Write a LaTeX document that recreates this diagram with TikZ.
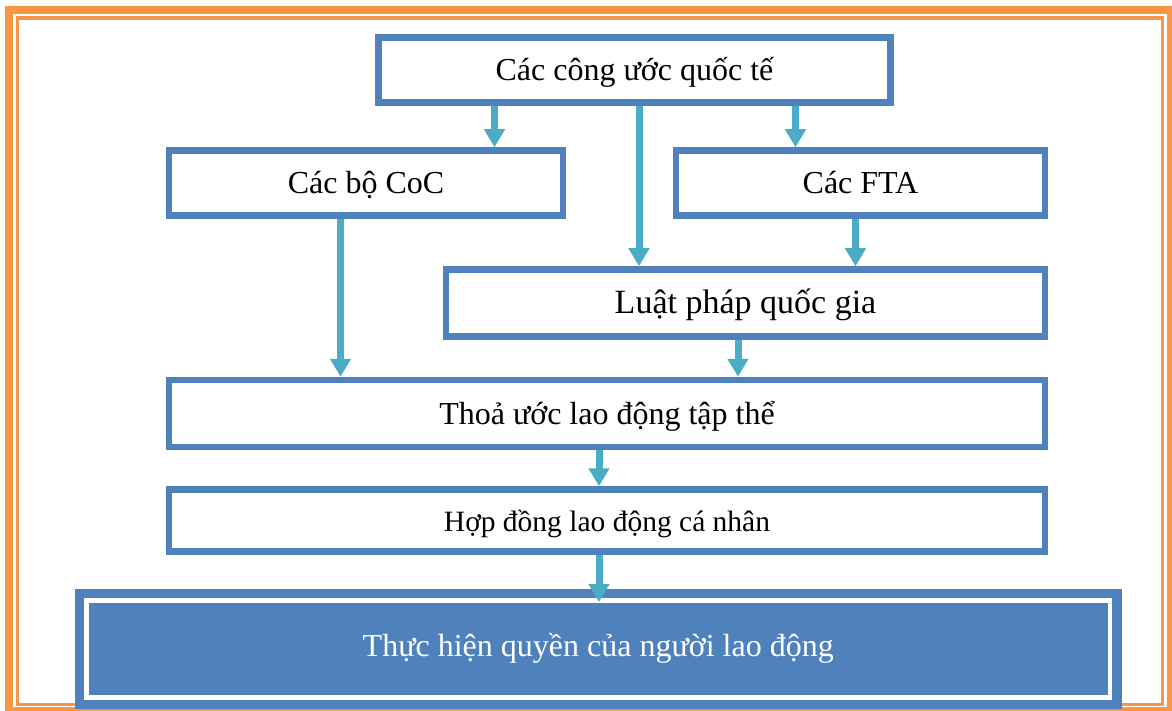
\documentclass[tikz,border=0pt]{standalone}
\usepackage{fontspec}
\setmainfont{Liberation Serif}
\usetikzlibrary{arrows.meta,backgrounds}

\definecolor{frameorange}{HTML}{F79646}
\definecolor{boxblue}{HTML}{4F81BD}
\definecolor{arrowteal}{HTML}{4BACC6}

\tikzset{
  stepbox/.style={draw=boxblue, line width=6.5pt, fill=white,
    inner sep=0pt, font=\fontsize{32}{38}\selectfont,
    text height=28pt, text depth=7pt},
  flow/.style={draw=arrowteal, line width=7pt,
    -{Triangle[width=20pt,length=18pt]}},
  resultbox/.style={draw=boxblue, fill=boxblue, double=white,
    double distance=4.5pt, line width=9.25pt, outer sep=0pt,
    text=white, font=\fontsize{32}{38}\selectfont,
    text height=22pt, text depth=7pt},
}

\begin{document}
\begin{tikzpicture}[x=1pt, y=-1pt]
  \useasboundingbox (0,0) rectangle (1172,711);

  % double orange page frame
  \draw[frameorange, line width=8pt] (9,10) rectangle (1171,711);
  \draw[frameorange, line width=3.5pt] (17.5,18) rectangle (1162.5,704.5);

  % boxes
  \node[stepbox, minimum width=512pt, minimum height=65pt] (intl) at (634.5,70)
    {Các công ước quốc tế};
  \node[stepbox, minimum width=394pt, minimum height=65pt] (coc) at (366,183)
    {Các bộ CoC};
  \node[stepbox, minimum width=369pt, minimum height=65pt] (fta) at (860.5,183)
    {Các FTA};
  \node[stepbox, minimum width=599pt, minimum height=67pt,
        font=\fontsize{34}{40}\selectfont] (law) at (745.5,303)
    {Luật pháp quốc gia};
  \node[stepbox, minimum width=876pt, minimum height=67pt] (cba) at (607,413.5)
    {Thoả ước lao động tập thể};
  \node[stepbox, minimum width=876pt, minimum height=62pt,
        font=\fontsize{29.5}{35}\selectfont] (contract) at (607,520.5)
    {Hợp đồng lao động cá nhân};
  \node[resultbox, minimum width=1023.5pt, minimum height=97pt] (rights) at (598.25,649)
    {Thực hiện quyền của người lao động};

  % connectors
  \draw[flow] (intl.south -| 494.5,0) -- (coc.north -| 494.5,0);
  \draw[flow] (intl.south -| 639,0) -- (law.north -| 639,0);
  \draw[flow] (intl.south -| 795.5,0) -- (fta.north -| 795.5,0);
  \draw[flow] (fta.south -| 855.5,0) -- (law.north -| 855.5,0);
  \draw[flow] (coc.south -| 340.5,0) -- (cba.north -| 340.5,0);
  \draw[flow] (law.south -| 738,0) -- (cba.north -| 738,0);
  \draw[flow] (cba.south -| 599,0) -- (contract.north -| 599,0);
  \draw[flow, shorten >=-1.5pt] (contract.south -| 599,0) -- (rights.north -| 599,0);
\end{tikzpicture}
\end{document}
